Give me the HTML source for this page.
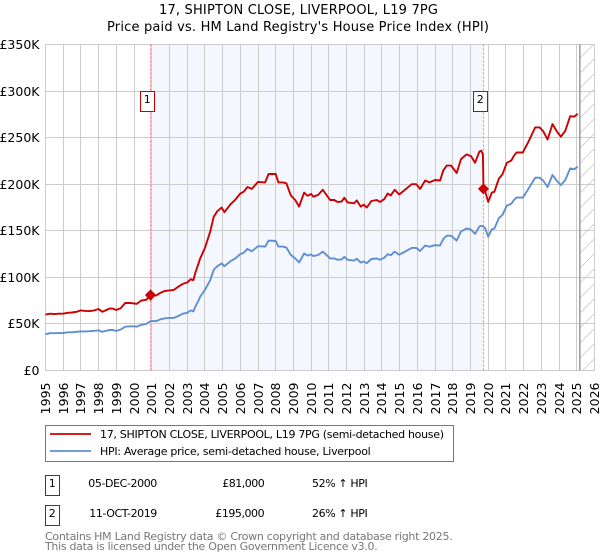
<!DOCTYPE html>
<html lang="en">
<head>
<meta charset="utf-8">
<title>17, SHIPTON CLOSE, LIVERPOOL, L19 7PG</title>
<style>
html,body{margin:0;padding:0;background:#fff;}
body{width:600px;height:560px;overflow:hidden;}
svg{display:block;font-family:"DejaVu Sans","Liberation Sans",sans-serif;}
</style>
</head>
<body>
<svg id="chart" xmlns="http://www.w3.org/2000/svg" width="600" height="560" viewBox="0 0 600 560">
  <defs>
    <pattern id="hatch" patternUnits="userSpaceOnUse" width="15" height="15" patternTransform="translate(579 44)">
      <path d="M0 15 L15 0" stroke="#ccc" stroke-width="0.8" fill="none"/>
    </pattern>
  </defs>
  <rect x="0" y="0" width="600" height="560" fill="#fff"/>
  <text x="159" y="14" font-size="13" textLength="279" lengthAdjust="spacing" fill="#000">17, SHIPTON CLOSE, LIVERPOOL, L19 7PG</text>
  <text x="107" y="31" font-size="13" textLength="382" lengthAdjust="spacing" fill="#000">Price paid vs. HM Land Registry's House Price Index (HPI)</text>
  <g id="plot"></g>

  <g>
    <rect x="45.5" y="425.5" width="408" height="36" fill="#fff" stroke="#777" stroke-width="1"/>
    <line x1="50" y1="434" x2="91" y2="434" stroke="#c00" stroke-width="1.8"/>
    <text x="100" y="438" font-size="11" textLength="344" lengthAdjust="spacing" fill="#000">17, SHIPTON CLOSE, LIVERPOOL, L19 7PG (semi-detached house)</text>
    <line x1="50" y1="451" x2="91" y2="451" stroke="#5f8fd3" stroke-width="1.8"/>
    <text x="100" y="455" font-size="11" textLength="270.7" lengthAdjust="spacing" fill="#000">HPI: Average price, semi-detached house, Liverpool</text>
  </g>

  <g>
    <rect x="45.5" y="475.5" width="14" height="20" fill="#fff" stroke="#c00" stroke-width="1"/>
    <text x="52.3" y="487" font-size="11" text-anchor="middle">1</text>
    <text x="88.3" y="487" font-size="11" textLength="69" lengthAdjust="spacing">05-DEC-2000</text>
    <text x="222.3" y="487" font-size="11" textLength="42.4" lengthAdjust="spacing">£81,000</text>
    <text x="312" y="487" font-size="11" textLength="55.7" lengthAdjust="spacing">52% ↑ HPI</text>
    <rect x="45.5" y="505.5" width="14" height="20" fill="#fff" stroke="#c00" stroke-width="1"/>
    <text x="52.3" y="517" font-size="11" text-anchor="middle">2</text>
    <text x="89.3" y="517" font-size="11" textLength="68" lengthAdjust="spacing">11-OCT-2019</text>
    <text x="215.3" y="517" font-size="11" textLength="49.3" lengthAdjust="spacing">£195,000</text>
    <text x="312" y="517" font-size="11" textLength="55.7" lengthAdjust="spacing">26% ↑ HPI</text>
  </g>

  <text x="45" y="540" font-size="11" textLength="407.7" lengthAdjust="spacing" fill="#777">Contains HM Land Registry data © Crown copyright and database right 2025.</text>
  <text x="45" y="550" font-size="11" textLength="332.7" lengthAdjust="spacing" fill="#777">This data is licensed under the Open Government Licence v3.0.</text>
</svg>
<script>
const yearTicks = [1995,1996,1997,1998,1999,2000,2001,2002,2003,2004,2005,2006,2007,2008,2009,2010,2011,2012,2013,2014,2015,2016,2017,2018,2019,2020,2021,2022,2023,2024,2025,2026];
const valueTicks = [0,50,100,150,200,250,300,350];
const valueLabels = ['£0','£50K','£100K','£150K','£200K','£250K','£300K','£350K'];

const dates = [1995,1995.25,1995.5,1995.75,1996,1996.25,1996.5,1996.75,1997,1997.25,1997.5,1997.75,1998,1998.2,1998.4,1998.6,1998.8,1999,1999.25,1999.5,1999.75,2000,2000.15,2000.4,2000.7,2000.93,2001.25,2001.5,2001.75,2002,2002.25,2002.5,2002.75,2003,2003.2,2003.35,2003.45,2003.64,2003.73,2004,2004.3,2004.5,2004.7,2004.95,2005.1,2005.45,2005.7,2006,2006.2,2006.4,2006.65,2007,2007.4,2007.6,2008,2008.15,2008.4,2008.6,2008.85,2009.1,2009.32,2009.6,2009.8,2010,2010.13,2010.4,2010.66,2011.07,2011.3,2011.48,2011.72,2011.87,2012.06,2012.43,2012.58,2012.8,2012.97,2013.14,2013.4,2013.7,2013.88,2014.13,2014.32,2014.49,2014.72,2014.97,2015.3,2015.68,2015.93,2016.15,2016.44,2016.68,2017,2017.28,2017.47,2017.66,2017.9,2018.22,2018.46,2018.78,2019.03,2019.25,2019.5,2019.61,2019.7,2019.73,2019.83,2020,2020.2,2020.35,2020.6,2020.8,2021.05,2021.3,2021.45,2021.6,2021.95,2022.27,2022.65,2022.9,2023.1,2023.35,2023.63,2023.9,2024.1,2024.35,2024.63,2024.85,2025.05];

const pricePaid = [60,61,60.5,61,61,62,62.3,63,64.5,64,63.8,64.5,66,63,64.5,66.5,66.5,65,67,72.5,72.5,72,71.5,75,76,81,80.5,83.5,85.5,86,86.5,90,93,94.5,98,97,104,115,120,131.5,149,165,171,175,170,178.5,183,190,192,197,195,202.5,202,211,211,202,202,201,188,183,176,191,187.6,189.5,186.6,188.5,194,183,183,181,181.3,185.5,180.5,179.5,182.6,176,178,175,182,183,181,184,190,188,194,189,194,200,200,195,204,202,204.5,204,215,220,220,212,227,232,230,223,235,236,232,195,192.3,181,191,192,206,210.5,223,225.5,230.5,234,234,245.5,261,261,257,248,264.5,256,251,257.5,273,272.5,275.5];

const hpiIndex = [39,40,40,40.2,40.3,41,41,41.5,42,42,42.2,42.6,43,41.5,42.5,43.5,43.5,42.5,44,47,47.5,47.5,47,49,50,53,53,55,56,56.5,56.5,58.5,61,62,64.5,63.5,68,75,79,86.5,97,108,112,115,112,117.5,120,125,126.5,130.5,128,133.4,133,139.5,139,133,133,132,124,120.4,116,125.6,123.4,124.7,122.8,124,127.6,120.4,120.4,119,119.3,122,118.8,118,120,115.8,117,115.2,119.7,120.4,119,121,125,123.7,127.6,124.3,127.6,131.6,131.6,128.3,134.2,132.9,134.5,134.2,141.4,144.7,144.7,139.5,149.3,152.6,151.3,146.7,154.6,155.3,154.9,154.5,152.6,143.6,151.6,152.5,163.6,167,177,179,183,185.6,185.6,195,207,207,204,197,210,203,199,204.5,217,216,218.8];

const saleDates = [2000.93,2019.73];
const salePrices = [81,195];
const saleLabels = ['1','2'];
const lastDataDate = 2025.2;

const SVG_NS = 'http://www.w3.org/2000/svg';
const plot = document.getElementById('plot');
const left = 45.5, right = 594.5, top_ = 44.5, bottom = 370.5;
const xScale = t => left + (t - 1995) * (right - left) / 31;
const yScale = v => bottom - v * (bottom - top_) / 350;
const snap = p => Math.round(p - 0.5) + 0.5;

function make(tag, attrs, parent) {
  const el = document.createElementNS(SVG_NS, tag);
  for (const k in attrs) el.setAttribute(k, attrs[k]);
  (parent || plot).appendChild(el);
  return el;
}

const band = make('rect', {x: xScale(saleDates[0]), y: top_, width: xScale(saleDates[1]) - xScale(saleDates[0]), height: bottom - top_, fill: '#f5f7ff'});



const hatchRect = make('rect', {x: xScale(lastDataDate), y: top_, width: right - xScale(lastDataDate), height: bottom - top_, fill: 'url(#hatch)'});



yearTicks.forEach(year => {
  const x = snap(xScale(year));
  const line = make('line', {x1: x, x2: x, y1: top_, y2: bottom, stroke: '#ccc', 'stroke-width': 1});
  
  
  const label = make('text', {x: 0, y: 0, 'font-size': 12.5, 'text-anchor': 'end', fill: '#000', transform: 'translate(' + (x + 4.5) + ',382.5) rotate(-90)'});
  label.textContent = year;
  
  
});

valueTicks.forEach((value, i) => {
  const y = snap(yScale(value));
  const line = make('line', {x1: left, x2: right, y1: y, y2: y, stroke: '#ccc', 'stroke-width': 1});
  
  
  const label = make('text', {x: 39.5, y: y + 4.5, 'font-size': 12.5, 'text-anchor': 'end', fill: '#000'});
  label.textContent = valueLabels[i];
  
  
});

const lastLine = make('line', {x1: xScale(lastDataDate) - 0.5, x2: xScale(lastDataDate) - 0.5, y1: top_, y2: bottom, stroke: '#999', 'stroke-width': 1.5});



saleDates.forEach(d => {
  const x = xScale(d);
  const line = make('line', {x1: x, x2: x, y1: top_, y2: bottom, stroke: '#f77', 'stroke-width': 1, 'stroke-dasharray': '2 2'});
  
  
});

const pointsOf = series => series.map((v, i) => xScale(dates[i]).toFixed(1) + ',' + yScale(v).toFixed(1)).join(' ');

const hpiLine = make('polyline', {points: pointsOf(hpiIndex), fill: 'none', stroke: '#5f8fd3', 'stroke-width': 1.9, 'stroke-linejoin': 'round'});



const priceLine = make('polyline', {points: pointsOf(pricePaid), fill: 'none', stroke: '#c00', 'stroke-width': 1.9, 'stroke-linejoin': 'round'});



saleDates.forEach((d, i) => {
  const x = xScale(d), y = yScale(salePrices[i]);
  const r = 5;
  const dot = make('path', {d: 'M' + x + ' ' + (y - r) + ' L' + (x + r) + ' ' + y + ' L' + x + ' ' + (y + r) + ' L' + (x - r) + ' ' + y + ' Z', fill: '#c00', stroke: '#c00', 'stroke-width': 0.8, 'stroke-linejoin': 'round'});
  
  
  const box = make('rect', {x: snap(x) - 10, y: 91.5, width: 14, height: 20, fill: '#fff', stroke: '#c00', 'stroke-width': 1});
  
  
  const label = make('text', {x: snap(x) - 3.2, y: 103, 'font-size': 11, 'text-anchor': 'middle', fill: '#000'});
  label.textContent = saleLabels[i];
  
  
});
</script>
</body>
</html>
